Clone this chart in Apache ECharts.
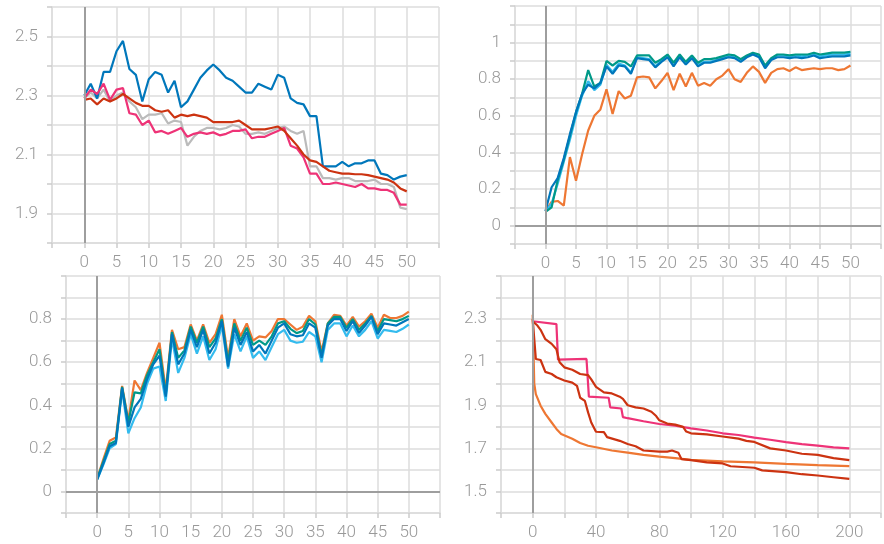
<!DOCTYPE html>
<html><head><meta charset="utf-8">
<script src="https://cdn.jsdelivr.net/npm/echarts@6/dist/echarts.min.js"></script>
<style>html,body{margin:0;padding:0;background:#fff}#c{width:884px;height:544px}</style>
</head><body><div id="c"></div>
<script>
// ---------- Panel 1 (top-left): x 0..50 ----------
const p1Blue = [2.30,2.34,2.29,2.38,2.38,2.45,2.485,2.39,2.37,2.28,2.355,2.38,2.37,2.31,2.35,2.26,2.28,2.32,2.36,2.385,2.405,2.385,2.36,2.35,2.33,2.31,2.31,2.34,2.33,2.32,2.37,2.36,2.29,2.275,2.27,2.23,2.23,2.06,2.06,2.06,2.075,2.06,2.07,2.07,2.08,2.08,2.035,2.03,2.015,2.025,2.03];
const p1Grey = [2.29,2.31,2.29,2.32,2.28,2.30,2.31,2.28,2.26,2.22,2.235,2.235,2.24,2.205,2.215,2.21,2.13,2.16,2.18,2.19,2.19,2.185,2.19,2.20,2.195,2.17,2.17,2.175,2.17,2.18,2.19,2.195,2.18,2.17,2.18,2.06,2.06,2.02,2.02,2.015,2.02,2.02,2.01,2.01,2.01,2.015,2.00,2.00,1.99,1.92,1.915];
const p1Pink = [2.29,2.32,2.305,2.34,2.285,2.32,2.325,2.24,2.235,2.20,2.215,2.175,2.18,2.17,2.18,2.19,2.16,2.17,2.175,2.17,2.175,2.165,2.17,2.18,2.18,2.185,2.155,2.16,2.16,2.17,2.18,2.19,2.13,2.12,2.09,2.035,2.035,2.00,2.00,2.005,2.00,1.995,1.99,2.00,1.985,1.985,1.98,1.98,1.97,1.93,1.93];
const p1Red = [2.285,2.29,2.27,2.29,2.28,2.29,2.305,2.29,2.275,2.265,2.265,2.25,2.245,2.25,2.225,2.235,2.23,2.235,2.23,2.225,2.21,2.21,2.21,2.21,2.215,2.20,2.185,2.185,2.185,2.19,2.195,2.18,2.155,2.13,2.10,2.08,2.075,2.06,2.045,2.04,2.035,2.035,2.033,2.033,2.03,2.025,2.02,2.015,2.005,1.985,1.975];

// ---------- Panel 2 (top-right): x 0..50 ----------
const p2Orange = [0.08,0.13,0.135,0.11,0.375,0.245,0.39,0.52,0.60,0.635,0.745,0.61,0.735,0.695,0.71,0.81,0.815,0.81,0.75,0.79,0.835,0.74,0.83,0.76,0.835,0.765,0.78,0.765,0.80,0.82,0.855,0.80,0.785,0.835,0.87,0.84,0.78,0.835,0.855,0.86,0.845,0.865,0.85,0.855,0.86,0.855,0.86,0.86,0.85,0.855,0.875];
const p2Teal = [0.075,0.10,0.25,0.36,0.49,0.62,0.72,0.85,0.76,0.78,0.90,0.875,0.90,0.895,0.87,0.93,0.93,0.93,0.89,0.91,0.935,0.89,0.935,0.895,0.93,0.89,0.91,0.91,0.915,0.925,0.935,0.93,0.91,0.93,0.945,0.935,0.875,0.915,0.935,0.935,0.93,0.935,0.935,0.935,0.945,0.935,0.94,0.945,0.945,0.945,0.95];
const p2Cyan = [0.08,0.12,0.23,0.35,0.47,0.60,0.71,0.79,0.74,0.77,0.88,0.84,0.885,0.875,0.835,0.92,0.915,0.91,0.87,0.90,0.925,0.875,0.925,0.885,0.92,0.88,0.895,0.895,0.905,0.915,0.925,0.92,0.90,0.925,0.94,0.93,0.87,0.91,0.93,0.93,0.925,0.93,0.925,0.93,0.935,0.925,0.93,0.935,0.935,0.935,0.94];
const p2Blue = [0.08,0.21,0.26,0.37,0.50,0.62,0.72,0.77,0.75,0.78,0.87,0.83,0.875,0.87,0.83,0.915,0.91,0.905,0.865,0.895,0.92,0.87,0.92,0.88,0.915,0.87,0.89,0.89,0.90,0.91,0.92,0.915,0.895,0.92,0.935,0.92,0.86,0.905,0.92,0.92,0.915,0.92,0.915,0.92,0.93,0.915,0.92,0.925,0.925,0.925,0.93];

// ---------- Panel 3 (bottom-left): x 0..50 ----------
const p3Orange = [0.06,0.15,0.235,0.25,0.49,0.33,0.515,0.47,0.55,0.62,0.69,0.47,0.75,0.66,0.67,0.775,0.70,0.775,0.69,0.73,0.82,0.62,0.80,0.72,0.78,0.70,0.72,0.715,0.745,0.80,0.80,0.775,0.75,0.765,0.815,0.79,0.65,0.78,0.82,0.815,0.77,0.81,0.765,0.79,0.825,0.76,0.82,0.805,0.805,0.815,0.835];
const p3Teal = [0.06,0.14,0.22,0.235,0.485,0.32,0.46,0.455,0.54,0.60,0.66,0.45,0.74,0.62,0.655,0.765,0.69,0.765,0.67,0.71,0.80,0.60,0.78,0.70,0.76,0.68,0.70,0.68,0.72,0.78,0.79,0.755,0.735,0.745,0.80,0.775,0.63,0.78,0.81,0.81,0.76,0.80,0.75,0.78,0.815,0.745,0.80,0.795,0.79,0.80,0.815];
const p3Cyan = [0.055,0.125,0.20,0.22,0.47,0.27,0.34,0.39,0.50,0.57,0.58,0.42,0.71,0.55,0.62,0.73,0.64,0.72,0.61,0.66,0.77,0.57,0.73,0.65,0.72,0.62,0.65,0.61,0.67,0.73,0.75,0.70,0.69,0.695,0.74,0.72,0.60,0.75,0.78,0.78,0.72,0.77,0.72,0.75,0.79,0.71,0.75,0.745,0.74,0.755,0.775];
const p3Blue = [0.055,0.13,0.21,0.225,0.48,0.30,0.39,0.43,0.52,0.59,0.63,0.44,0.73,0.59,0.64,0.75,0.67,0.75,0.64,0.69,0.79,0.58,0.76,0.68,0.74,0.65,0.68,0.64,0.70,0.76,0.78,0.73,0.72,0.725,0.78,0.76,0.62,0.77,0.80,0.80,0.745,0.79,0.735,0.77,0.81,0.73,0.78,0.775,0.77,0.785,0.80];

// ---------- Panel 4 (bottom-right): x 0..200, [step, value] ----------
const p4Pink = [[0,2.29],[1,2.285],[15,2.277],[16,2.112],[34,2.115],[35.5,1.94],[48,1.935],[49,1.89],[56,1.885],[57,1.845],[60,1.84],[70,1.826],[80,1.813],[90,1.805],[100,1.793],[110,1.783],[120,1.77],[130,1.762],[140,1.75],[150,1.74],[160,1.729],[170,1.72],[180,1.713],[190,1.705],[200,1.70]];
const p4RedA = [[0,2.29],[3,2.27],[5,2.25],[8,2.207],[12,2.185],[15,2.16],[17,2.10],[20,2.076],[25,2.065],[30,2.045],[35,2.04],[37,2.02],[40,1.985],[45,1.96],[50,1.955],[55,1.94],[57,1.93],[60,1.90],[65,1.89],[70,1.885],[75,1.87],[78,1.85],[80,1.83],[85,1.815],[90,1.81],[95,1.80],[97,1.778],[100,1.77],[110,1.765],[120,1.755],[130,1.745],[135,1.735],[140,1.73],[150,1.70],[160,1.69],[170,1.675],[180,1.67],[190,1.655],[200,1.645]];
const p4RedB = [[0,2.30],[2,2.115],[5,2.11],[8,2.055],[12,2.045],[15,2.03],[20,2.015],[25,2.005],[28,1.99],[30,1.935],[33,1.92],[35,1.867],[37,1.82],[40,1.777],[45,1.775],[47,1.752],[55,1.735],[60,1.72],[65,1.71],[70,1.69],[80,1.685],[85,1.685],[88,1.69],[92,1.68],[94,1.65],[100,1.645],[110,1.635],[120,1.63],[125,1.617],[140,1.61],[145,1.598],[160,1.59],[170,1.58],[180,1.574],[190,1.566],[200,1.558]];
const p4Orange = [[0,2.32],[1,2.0],[2,1.952],[5,1.898],[8,1.86],[12,1.82],[15,1.79],[18,1.767],[25,1.745],[30,1.725],[35,1.712],[40,1.705],[50,1.69],[60,1.68],[70,1.67],[80,1.662],[90,1.655],[100,1.647],[120,1.64],[140,1.635],[160,1.628],[180,1.622],[200,1.618]];

const steps50 = Array.from({length: 51}, (_, i) => i);

const C = {blue:'#0077BB', cyan:'#33BBEE', teal:'#009988', orange:'#EE7733', red:'#CC3311', pink:'#EE3377', grey:'#BBBBBB'};
const GRID = '#dcdcdc', LABEL = '#999999', ZERO = '#9e9e9e';
const FONT = 'Roboto';

function xAxisDef(i, min, max, interval, showFn) {
  return {
    type: 'value', gridIndex: i, min, max, interval,
    axisLine: {show: true, onZero: false, lineStyle: {color: GRID, width: 1.5}},
    axisTick: {show: true, length: 5, lineStyle: {color: '#cccccc', width: 1.5}},
    splitLine: {show: true, lineStyle: {color: GRID, width: 1.5}},
    axisLabel: {color: LABEL, fontFamily: FONT, fontWeight: 300, fontSize: 17, margin: 11,
      formatter: v => showFn(v) ? String(Math.round(v)) : ''}
  };
}
function yAxisDef(i, min, max, parity) {
  return {
    type: 'value', gridIndex: i, min, max, interval: 0.1,
    axisLine: {show: true, onZero: false, lineStyle: {color: GRID, width: 1.5}},
    axisTick: {show: true, length: 5, lineStyle: {color: '#cccccc', width: 1.5}},
    splitLine: {show: true, lineStyle: {color: GRID, width: 1.5}},
    axisLabel: {color: LABEL, fontFamily: FONT, fontWeight: 300, fontSize: 17, margin: 14,
      formatter: v => {
        const k = Math.round(v * 10);
        if (Math.abs(v - max) < 1e-6) return '';
        if (((k % 2) + 2) % 2 !== parity) return '';
        return String(+(k / 10).toFixed(1));
      }}
  };
}
function zeroSeries(i, withY) {
  const data = [{xAxis: 0}];
  if (withY) data.push({yAxis: 0});
  return {
    type: 'line', xAxisIndex: i, yAxisIndex: i, data: [], z: 1, silent: true,
    markLine: {silent: true, symbol: ['none','none'], label: {show: false},
      lineStyle: {color: ZERO, width: 2, type: 'solid'}, emphasis: {disabled: true}, data}
  };
}
function line(i, color, xs, ys) {
  const data = xs ? ys.map((v, k) => [xs[k], v]) : ys;
  return {type: 'line', xAxisIndex: i, yAxisIndex: i, data, showSymbol: false, symbol: 'none',
    z: 2, lineStyle: {color, width: 2.2}, itemStyle: {color}};
}

const chart = echarts.init(document.getElementById('c'), null, {renderer: 'canvas'});
chart.setOption({
  animation: false,
  backgroundColor: '#fff',
  grid: [
    {left: 52, right: 445, top: 7, bottom: 301},
    {left: 515, right: -4, top: 6, bottom: 300},
    {left: 66, right: 444, top: 276, bottom: 31},
    {left: 501, right: -4, top: 276, bottom: 31}
  ],
  xAxis: [
    xAxisDef(0, -5, 55, 5, v => v >= 0 && v <= 50),
    xAxisDef(1, -5, 55, 5, v => v >= 0 && v <= 50),
    xAxisDef(2, -5, 55, 5, v => v >= 0 && v <= 50),
    xAxisDef(3, -20, 220, 20, v => v >= 0 && v <= 200 && Math.round(v) % 40 === 0)
  ],
  yAxis: [
    yAxisDef(0, 1.8, 2.6, 1),
    yAxisDef(1, -0.1, 1.2, 0),
    yAxisDef(2, -0.1, 1.0, 0),
    yAxisDef(3, 1.4, 2.5, 1)
  ],
  series: [
    zeroSeries(0, false),
    line(0, C.grey, steps50, p1Grey),
    line(0, C.blue, steps50, p1Blue),
    line(0, C.pink, steps50, p1Pink),
    line(0, C.red, steps50, p1Red),
    zeroSeries(1, true),
    line(1, C.orange, steps50, p2Orange),
    line(1, C.cyan, steps50, p2Cyan),
    line(1, C.teal, steps50, p2Teal),
    line(1, C.blue, steps50, p2Blue),
    zeroSeries(2, true),
    line(2, C.cyan, steps50, p3Cyan),
    line(2, C.orange, steps50, p3Orange),
    line(2, C.teal, steps50, p3Teal),
    line(2, C.blue, steps50, p3Blue),
    zeroSeries(3, false),
    line(3, C.orange, null, p4Orange),
    line(3, C.pink, null, p4Pink),
    line(3, C.red, null, p4RedA),
    line(3, C.red, null, p4RedB)
  ]
});
</script></body></html>
